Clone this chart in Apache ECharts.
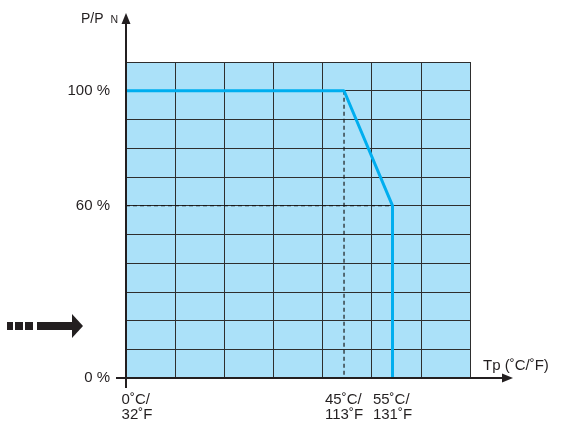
<!DOCTYPE html>
<html>
<head>
<meta charset="utf-8">
<script src="https://cdn.jsdelivr.net/npm/echarts@6/dist/echarts.min.js"></script>
<style>
html,body{margin:0;padding:0;background:#fff;}
#c{width:561px;height:427px;}
</style>
</head>
<body>
<div id="c"></div>
<script>
// ---- data ----
const curveTempC = [0, 45, 55, 55];
const curvePowerPct = [100, 100, 60, 0];
const ref45TempC = [45, 45];
const ref45PowerPct = [100, 0];
const ref60TempC = [0, 55];
const ref60PowerPct = [60, 60];
const xTicksC = [0, 45, 55];
const xTicksF = [32, 113, 131];
const yTicks = [0, 60, 100];
const xMaxC = 71;
const yMaxPct = 110;

const ink = '#231f20';
const font = "'Liberation Sans', Arial, sans-serif";
const pair = (xs, ys) => xs.map((x, i) => [x, ys[i]]);

const chart = echarts.init(document.getElementById('c'));
chart.setOption({
  animation: false,
  backgroundColor: '#fff',
  textStyle: { fontFamily: font, color: ink },
  title: [
    {
      text: '{a|P/P }{b|N}',
      left: 76, top: 7,
      textStyle: { rich: {
        a: { fontFamily: font, fontSize: 14, color: ink, fontWeight: 'normal' },
        b: { fontFamily: font, fontSize: 10.5, color: ink, fontWeight: 'normal', padding: [3, 0, 0, 3] }
      } }
    },
    {
      text: 'Tp (˚C/˚F)',
      left: 478, top: 353,
      textStyle: { fontFamily: font, fontSize: 15, color: ink, fontWeight: 'normal' }
    }
  ],
  grid: {
    left: 126, top: 62, width: 344, height: 316,
    show: true, backgroundColor: '#abe1f9', borderWidth: 0
  },
  xAxis: [
    {
      type: 'value', gridIndex: 0, min: 0, max: xMaxC, interval: 5,
      axisLine: { show: false }, axisTick: { show: false }, splitLine: { show: false },
      axisLabel: {
        margin: 14, fontSize: 15, color: ink, fontFamily: font, lineHeight: 15,
        showMaxLabel: false,
        formatter: v => {
          const i = xTicksC.indexOf(v);
          if (i < 0) return '';
          const k = i === 0 ? 'f' : 'n';
          return '{' + k + '|' + xTicksC[i] + '˚C/}\n{' + k + '|' + xTicksF[i] + '˚F}';
        },
        rich: {
          f: { fontSize: 15, fontFamily: font, color: ink, lineHeight: 15, align: 'left', padding: [0, 0, 0, 22] },
          n: { fontSize: 15, fontFamily: font, color: ink, lineHeight: 15, align: 'left' }
        }
      }
    },
    {
      type: 'value', gridIndex: 0, min: 0, max: 7, interval: 1,
      axisLine: { show: false }, axisTick: { show: false }, axisLabel: { show: false },
      splitLine: { show: true, lineStyle: { color: '#2e2e2e', width: 1 } }
    }
  ],
  yAxis: [
    {
      type: 'value', gridIndex: 0, min: 0, max: yMaxPct, interval: 10,
      axisLine: { show: false }, axisTick: { show: false },
      splitLine: { show: true, lineStyle: { color: '#2e2e2e', width: 1 } },
      axisLabel: {
        margin: 16, fontSize: 15, color: ink, fontFamily: font,
        formatter: v => yTicks.indexOf(v) >= 0 ? v + ' %' : ''
      }
    }
  ],
  series: [
    {
      type: 'line', xAxisIndex: 0, yAxisIndex: 0, data: pair(ref45TempC, ref45PowerPct),
      symbol: 'none', lineStyle: { color: '#1a1a1a', width: 1.2, type: [4, 3] }, z: 3, silent: true
    },
    {
      type: 'line', xAxisIndex: 0, yAxisIndex: 0, data: pair(ref60TempC, ref60PowerPct),
      symbol: 'none', lineStyle: { color: '#1a1a1a', width: 1.2, type: [4, 3] }, z: 3, silent: true
    },
    {
      type: 'line', xAxisIndex: 0, yAxisIndex: 0, data: pair(curveTempC, curvePowerPct),
      symbol: 'none', lineStyle: { color: '#00aeef', width: 3 }, z: 5, silent: true
    }
  ]
});

// Axes with arrows, positioned from the chart's own scales
const o = chart.convertToPixel({ xAxisIndex: 0, yAxisIndex: 0 }, [0, 0]);
const tr = chart.convertToPixel({ xAxisIndex: 0, yAxisIndex: 0 }, [xMaxC, yMaxPct]);
const yTip = tr[1] - 49, xTip = tr[0] + 43;
const ls = { stroke: ink, lineWidth: 2 };
chart.setOption({
  graphic: [
    { type: 'line', z: 100, shape: { x1: o[0], y1: o[1] + 10, x2: o[0], y2: yTip + 8 }, style: ls },
    { type: 'polygon', z: 100, shape: { points: [[o[0], yTip], [o[0] - 4.5, yTip + 11], [o[0] + 4.5, yTip + 11]] }, style: { fill: ink } },
    { type: 'line', z: 100, shape: { x1: o[0] - 10, y1: o[1], x2: xTip - 8, y2: o[1] }, style: ls },
    { type: 'polygon', z: 100, shape: { points: [[xTip, o[1]], [xTip - 11, o[1] - 4.5], [xTip - 11, o[1] + 4.5]] }, style: { fill: ink } },
    // dashed big arrow on the left
    { type: 'rect', shape: { x: 7, y: 322, width: 6, height: 8 }, style: { fill: ink } },
    { type: 'rect', shape: { x: 15, y: 322, width: 8, height: 8 }, style: { fill: ink } },
    { type: 'rect', shape: { x: 25, y: 322, width: 8, height: 8 }, style: { fill: ink } },
    { type: 'rect', shape: { x: 37, y: 322, width: 36, height: 8 }, style: { fill: ink } },
    { type: 'polygon', shape: { points: [[72, 314], [83, 326], [72, 338]] }, style: { fill: ink } }
  ]
});
</script>
</body>
</html>
